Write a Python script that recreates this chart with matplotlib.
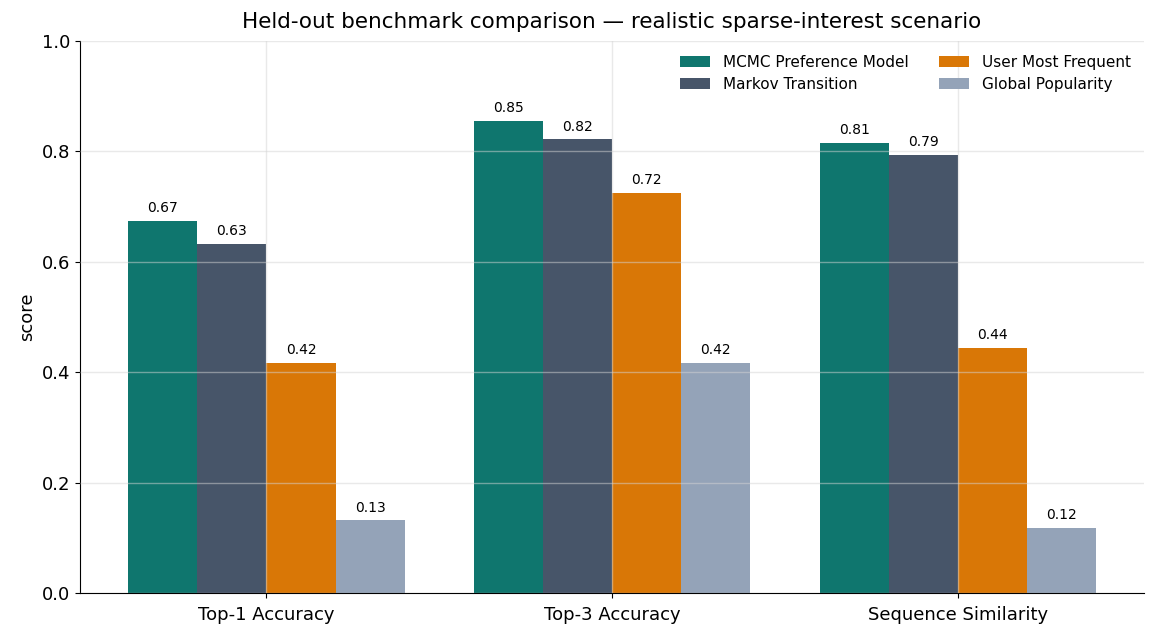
import numpy as np
import matplotlib.pyplot as plt

metrics = ["Top-1 Accuracy", "Top-3 Accuracy", "Sequence Similarity"]
models = ["MCMC Preference Model", "Markov Transition", "User Most Frequent", "Global Popularity"]
colors = ["#0f766e", "#475569", "#d97706", "#94a3b8"]

mcmc = [0.674, 0.855, 0.815]
markov = [0.632, 0.822, 0.794]
most_freq = [0.417, 0.725, 0.444]
popularity = [0.132, 0.417, 0.118]

scores = [mcmc, markov, most_freq, popularity]

fig, ax = plt.subplots(figsize=(11.56, 6.37), dpi=100)

x = np.arange(len(metrics))
width = 0.2

for i, (name, vals) in enumerate(zip(models, scores)):
    pos = x + (i - 1.5) * width
    bars = ax.bar(pos, vals, width, label=name, color=colors[i], zorder=1)
    for b, v in zip(bars, vals):
        ax.annotate(f"{v:.2f}", (b.get_x() + b.get_width() / 2, v),
                    xytext=(0, 4), textcoords="offset points",
                    ha="center", va="bottom", fontsize=10)

ax.set_ylim(0, 1.0)
ax.set_xticks(x)
ax.set_xticklabels(metrics, fontsize=13)
ax.tick_params(axis="x", pad=6)
ax.tick_params(axis="y", labelsize=13)
ax.set_ylabel("score", fontsize=13)
ax.set_title("Held-out benchmark comparison — realistic sparse-interest scenario",
             fontsize=15.5, pad=9)
ax.grid(True, color="#d4d4d4", alpha=0.5, linewidth=1, zorder=3)
ax.set_axisbelow(False)
for s in ["top", "right"]:
    ax.spines[s].set_visible(False)
ax.legend(ncol=2, frameon=False, loc="upper right", fontsize=11)

fig.subplots_adjust(left=0.069, right=0.99, top=0.936, bottom=0.069)
fig.savefig("out.png", dpi=100)
